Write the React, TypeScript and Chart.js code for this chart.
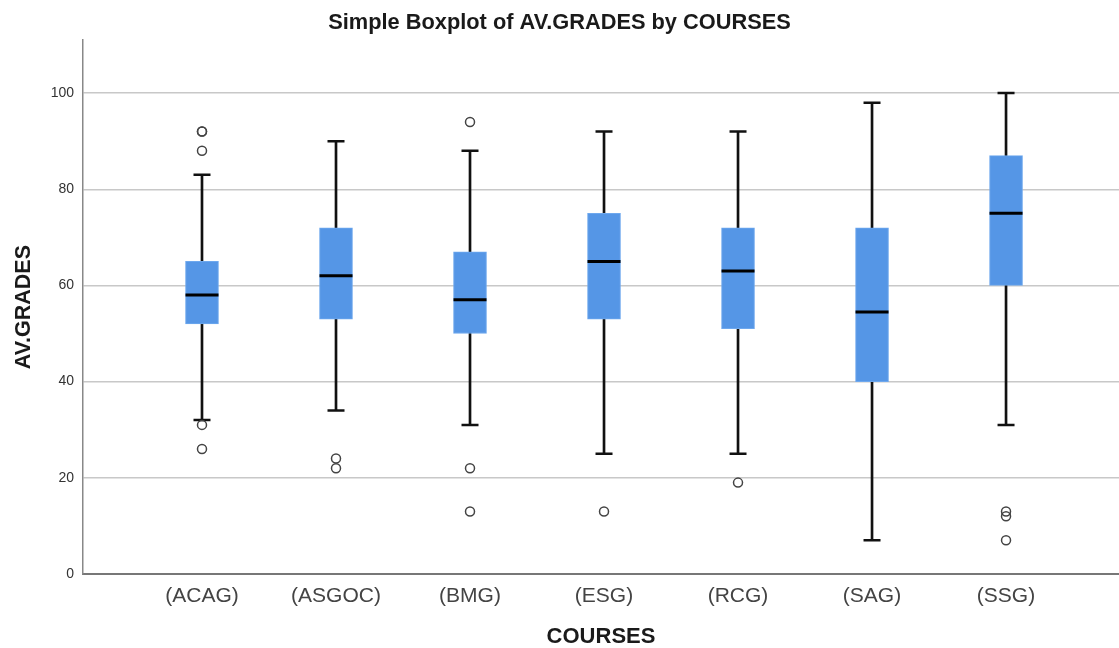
import React, { useEffect, useRef } from "react";
import { Chart, registerables } from "chart.js";

Chart.register(...registerables);

const categories = ["(ACAG)", "(ASGOC)", "(BMG)", "(ESG)", "(RCG)", "(SAG)", "(SSG)"];
const whiskerLow = [32, 34, 31, 25, 25, 7, 31];
const q1 = [52, 53, 50, 53, 51, 40, 60];
const median = [58, 62, 57, 65, 63, 54.5, 75];
const q3 = [65, 72, 67, 75, 72, 72, 87];
const whiskerHigh = [83, 90, 88, 92, 92, 98, 100];
const outliers: number[][] = [
  [92, 92, 88, 31, 26],
  [24, 22],
  [94, 22, 13],
  [13],
  [19],
  [],
  [13, 12, 7],
];
const yTicks = [0, 20, 40, 60, 80, 100];

const FONT = "'Liberation Sans', Arial, Helvetica, sans-serif";

export default function App() {
  const ref = useRef<HTMLCanvasElement | null>(null);

  useEffect(() => {
    if (!ref.current) return;
    const idx = categories.map((_, i) => i);
    const whiskerData = idx.map((i) => ({ x: i, y: [whiskerLow[i], whiskerHigh[i]] }));
    const boxData = idx.map((i) => ({ x: i, y: [q1[i], q3[i]] }));
    const medianData = idx.map((i) => ({ x: i, y: median[i] }));
    const capData = idx.flatMap((i) => [
      { x: i, y: whiskerLow[i] },
      { x: i, y: whiskerHigh[i] },
    ]);
    const outlierData = idx.flatMap((i) => outliers[i].map((v) => ({ x: i, y: v })));

    const chart = new Chart(ref.current, {
      type: "bar",
      data: {
        datasets: [
          {
            type: "bar",
            data: whiskerData as any,
            backgroundColor: "#111111",
            barThickness: 2,
            grouped: false,
            borderWidth: 0,
            order: 4,
          } as any,
          {
            type: "bar",
            data: boxData as any,
            backgroundColor: "#5596e6",
            borderColor: "#6ea8ee",
            borderWidth: 1,
            borderSkipped: false,
            barThickness: 33,
            grouped: false,
            order: 3,
          } as any,
          {
            type: "scatter",
            data: medianData,
            pointStyle: "line",
            radius: 16.5,
            borderColor: "#000000",
            borderWidth: 3,
            order: 2,
          } as any,
          {
            type: "scatter",
            data: capData,
            pointStyle: "line",
            radius: 8.5,
            borderColor: "#111111",
            borderWidth: 2.5,
            order: 1,
          } as any,
          {
            type: "scatter",
            data: outlierData,
            pointStyle: "circle",
            radius: 4.5,
            borderColor: "#444444",
            backgroundColor: "rgba(255,255,255,0)",
            borderWidth: 1.5,
            order: 0,
          } as any,
        ],
      },
      options: {
        responsive: false,
        animation: false,
        layout: { padding: 0, autoPadding: false },
        plugins: {
          legend: { display: false },
          tooltip: { enabled: false },
          title: {
            display: true,
            text: "Simple Boxplot of AV.GRADES by COURSES",
            color: "#1a1a1a",
            font: { family: FONT, size: 21.8, weight: "bold", lineHeight: 1.2 },
            padding: { top: 10, bottom: 4 },
          },
        },
        scales: {
          x: {
            type: "linear",
            offset: false,
            min: -0.888,
            max: 6.843,
            afterBuildTicks: (scale: any) => {
              scale.ticks = idx.map((i) => ({ value: i }));
            },
            afterFit: (scale: any) => {
              scale.height = 74;
              scale.paddingLeft = 0;
              scale.paddingRight = 0;
            },
            ticks: {
              callback: (v: any) => categories[v as number] ?? "",
              color: "#444444",
              font: { family: FONT, size: 21 },
              padding: 10,
              maxRotation: 0,
              autoSkip: false,
            },
            grid: { display: false, drawTicks: false, offset: false },
            border: { display: true, color: "#777777", width: 2 },
            title: {
              display: true,
              text: "COURSES",
              color: "#1a1a1a",
              font: { family: FONT, size: 22, weight: "bold", lineHeight: 1 },
              padding: { top: 0, bottom: 0 },
            },
          },
          y: {
            type: "linear",
            min: 0,
            max: 111,
            afterBuildTicks: (scale: any) => {
              scale.ticks = yTicks.map((v) => ({ value: v }));
            },
            afterFit: (scale: any) => {
              scale.width = 83;
              scale.paddingTop = 0;
              scale.paddingBottom = 0;
            },
            ticks: {
              color: "#333333",
              font: { family: FONT, size: 14 },
              padding: 9,
            },
            grid: {
              drawTicks: false,
              color: (ctx: any) => (ctx.tick && ctx.tick.value === 0 ? "rgba(0,0,0,0)" : "#c8c8c8"),
              lineWidth: 1.5,
            },
            border: { display: true, color: "#888888", width: 1.5 },
            title: {
              display: true,
              text: "AV.GRADES",
              color: "#1a1a1a",
              font: { family: FONT, size: 21.5, weight: "bold", lineHeight: 1 },
              padding: { top: 13, bottom: 0 },
            },
          },
        },
      } as any,
    });
    return () => chart.destroy();
  }, []);

  return (
    <div style={{ position: "fixed", left: 0, top: 0, width: 1119, height: 648, background: "#ffffff" }}>
      <canvas ref={ref} width={1119} height={648} style={{ display: "block" }} />
    </div>
  );
}
